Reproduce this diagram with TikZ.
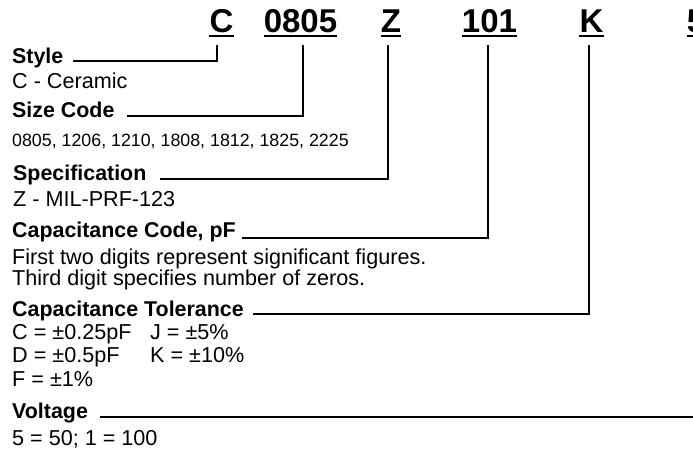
\documentclass[tikz,border=0pt]{standalone}
\usepackage{fontspec}
\setmainfont{Liberation Sans}
\begin{document}
\begin{tikzpicture}[x=1pt,y=-1pt,
  hdr/.style={anchor=base,inner sep=0pt,font=\fontsize{33}{33}\selectfont\bfseries},
  lbl/.style={anchor=base west,inner sep=0pt,font=\fontsize{21.4}{21.4}\selectfont\bfseries},
  txt/.style={anchor=base west,inner sep=0pt,font=\fontsize{21.6}{21.6}\selectfont},
  small/.style={anchor=base west,inner sep=0pt,font=\fontsize{17.8}{17.8}\selectfont},
  conn/.style={line width=1.8pt,line join=miter},
  uline/.style={line width=2.4pt}]
\useasboundingbox (0,0) rectangle (693,451);
% header codes
\node[hdr] (hC) at (221.5,32) {C};
\node[hdr] (h0805) at (300.5,32) {0805};
\node[hdr] (hZ) at (391,32) {Z};
\node[hdr] (h101) at (489.5,32) {101};
\node[hdr] (hK) at (591.5,32) {K};
\node[hdr] (h5) at (696,32) {5};
\foreach \n in {hC,h0805,hZ,h101,hK,h5}
  \draw[uline] ([yshift=-4pt]\n.base west) -- ([yshift=-4pt]\n.base east);
% labels and texts
\node[lbl] (lStyle) at (12,63) {Style};
\node[txt] (tStyle) at (12,88) {C - Ceramic};
\node[lbl] (lSize) at (12,117) {Size Code};
\node[small] (tSize) at (12,146) {0805, 1206, 1210, 1808, 1812, 1825, 2225};
\node[lbl] (lSpec) at (13,180) {Specification};
\node[txt] (tSpec) at (13,206) {Z - MIL-PRF-123};
\node[lbl] (lCap) at (12,237) {Capacitance Code, pF};
\node[txt] (tCap1) at (12,264) {First two digits represent significant figures.};
\node[txt] (tCap2) at (12,285) {Third digit specifies number of zeros.};
\node[lbl] (lTol) at (12,316) {Capacitance Tolerance};
\node[txt] (tTolC) at (12,339) {C = ±0.25pF};
\node[txt] (tTolJ) at (150,339) {J = ±5\%};
\node[txt] (tTolD) at (12,362) {D = ±0.5pF};
\node[txt] (tTolK) at (150,362) {K = ±10\%};
\node[txt] (tTolF) at (12,386) {F = ±1\%};
\node[lbl] (lVolt) at (12,418) {Voltage};
\node[txt] (tVolt) at (12,445) {5 = 50; 1 = 100};
% connector start points
\coordinate (sStyle) at (73,61);
\coordinate (sSize) at (127,116);
\coordinate (sSpec) at (160,179);
\coordinate (sCap) at (242,238);
\coordinate (sTol) at (253,314);
\coordinate (sVolt) at (100,417);
% connectors
\draw[conn] (sStyle) -| ([xshift=-4.5pt,yshift=-13pt]hC.base);
\draw[conn] (sSize) -| ([xshift=2.5pt,yshift=-13pt]h0805.base);
\draw[conn] (sSpec) -| ([xshift=-3pt,yshift=-13pt]hZ.base);
\draw[conn] (sCap) -| ([xshift=-1.5pt,yshift=-13pt]h101.base);
\draw[conn] (sTol) -| ([xshift=-2.5pt,yshift=-13pt]hK.base);
\draw[conn] (sVolt) -| ([xshift=-1pt,yshift=-13pt]h5.base);
\end{tikzpicture}
\end{document}
